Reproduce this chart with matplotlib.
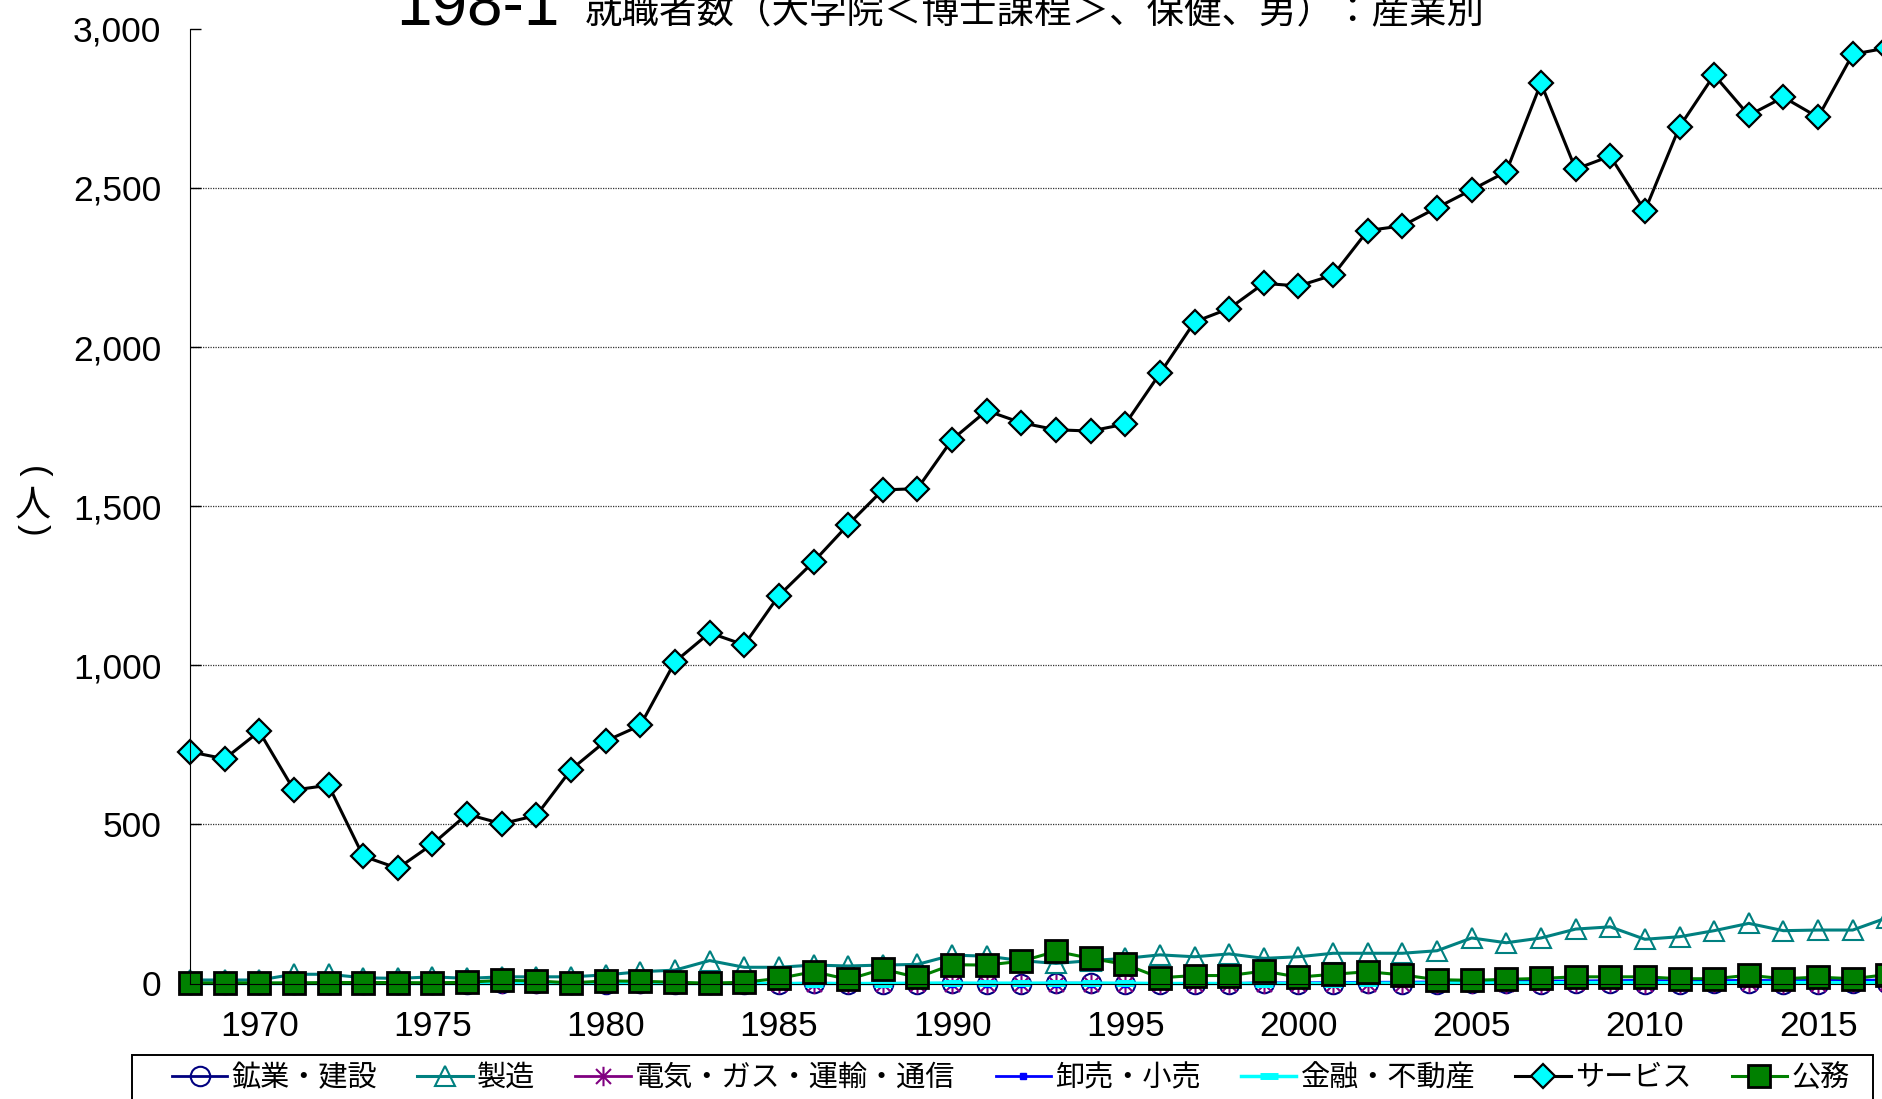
import matplotlib
matplotlib.use('Agg')
import matplotlib.pyplot as plt
from matplotlib import font_manager
from matplotlib.patches import Rectangle
from matplotlib.path import Path

# ---- data ----
years = list(range(1968, 2018))

mining = [0, 0, 0, 0, 0, 0, 0, 0, 0, 1, 1, 0, 0, 1, 0, 0, 0, 0, 1, 0,
          0, 0, 1, 0, 0, 1, 1, 0, 0, 0, 0, 1, 0, 0, 1, 0, 0, 1, 1, 0,
          1, 1, 0, 0, 1, 1, 0, 0, 1, 1]

manufacturing = [11, 11, 11, 29, 29, 18, 16, 21, 16, 21, 21, 21, 27, 37, 42, 72, 51, 51, 58, 55,
                 58, 60, 89, 86, 72, 63, 72, 79, 90, 84, 93, 79, 84, 95, 95, 95, 103, 143, 128, 143,
                 171, 178, 139, 147, 166, 189, 166, 168, 168, 207]

utilities = [0, 0, 0, 0, 0, 0, 0, 0, 0, 0, 0, 0, 0, 0, 0, 0, 0, 0, 0, 0,
             0, 0, 0, 0, 0, 0, 0, 0, 0, 0, 0, 0, 0, 0, 0, 0, 0, 0, 0, 0,
             1, 1, 0, 0, 1, 1, 0, 0, 1, 1]

wholesale = [0, 0, 0, 0, 0, 0, 0, 0, 0, 0, 0, 0, 0, 0, 0, 0, 0, 0, 0, 0,
             0, 0, 0, 0, 0, 0, 0, 0, 0, 0, 0, 2, 2, 3, 4, 4, 5, 6, 6, 8,
             8, 9, 10, 8, 9, 10, 9, 10, 10, 11]

finance = [0, 0, 0, 0, 0, 0, 0, 0, 0, 0, 0, 0, 0, 0, 0, 0, 0, 0, 0, 0,
           0, 1, 1, 1, 1, 1, 1, 1, 0, 0, 0, 0, 0, 0, 1, 1, 1, 2, 2, 2,
           3, 3, 3, 2, 2, 3, 3, 3, 2, 3]

services = [728, 706, 792, 608, 623, 400, 362, 438, 532, 502, 528, 672, 762, 811, 1011, 1102, 1064, 1219, 1325, 1442,
            1551, 1555, 1709, 1800, 1762, 1740, 1736, 1758, 1917, 2079, 2121, 2200, 2192, 2226, 2366, 2381, 2438, 2494, 2551, 2829,
            2559, 2600, 2428, 2692, 2855, 2728, 2785, 2722, 2920, 2940]

public = [2, 2, 2, 2, 3, 3, 3, 2, 4, 10, 8, 2, 8, 7, 4, 1, 4, 16, 37, 13,
          45, 19, 59, 58, 70, 101, 79, 60, 18, 25, 25, 39, 20, 29, 37, 27, 12, 10, 13, 16,
          21, 21, 21, 15, 15, 26, 15, 20, 15, 28]

labels = ['鉱業・建設', '製造', '電気・ガス・運輸・通信', '卸売・小売', '金融・不動産', 'サービス', '公務']
yticks = [0, 500, 1000, 1500, 2000, 2500, 3000]
ytick_labels = ['0', '500', '1,000', '1,500', '2,000', '2,500', '3,000']
xticks = [1970, 1975, 1980, 1985, 1990, 1995, 2000, 2005, 2010, 2015]
xtick_labels = ['1970', '1975', '1980', '1985', '1990', '1995', '2000', '2005', '2010', '2015']
title_num = '198-1'
title_jp = '就職者数（大学院＜博士課程＞、保健、男）：産業別'


def font_ok(name):
    try:
        font_manager.findfont(font_manager.FontProperties(family=name), fallback_to_default=False)
        return True
    except ValueError:
        return False


if font_ok('Liberation Sans Narrow'):
    num_font, num_size = 'Liberation Sans Narrow', 28
else:
    num_font, num_size = 'Liberation Sans', 25.5
jp_font = 'Noto Sans CJK JP'

# excel-like asterisk marker: an x with a vertical bar
asterisk = Path([(-1, -1), (1, 1), (-1, 1), (1, -1), (0, -1.3), (0, 1.3)],
                [Path.MOVETO, Path.LINETO, Path.MOVETO, Path.LINETO, Path.MOVETO, Path.LINETO])

W, H = 1883, 1099
fig = plt.figure(figsize=(W / 100, H / 100), dpi=100)
ax = fig.add_axes([190 / W, 1 - 983.5 / H, 52 * 34.64 / W, 954.7 / H])

l1, = ax.plot(years, mining, color='#000080', lw=2, marker='o', ms=14, mfc='none', mew=1.5, clip_on=False)
l2, = ax.plot(years, manufacturing, color='#008080', lw=2.2, marker='^', ms=15, mfc='none', mew=1.5, clip_on=False)
l3, = ax.plot(years, utilities, color='#800080', lw=2, marker=asterisk, ms=14, mew=1.5, clip_on=False)
l4, = ax.plot(years, wholesale, color='#0000FF', lw=2, marker='s', ms=4, mew=1, clip_on=False)
l5, = ax.plot(years, finance, color='#00FFFF', lw=2.5, marker='_', ms=13, mew=5, clip_on=False)
l6, = ax.plot(years, services, color='black', lw=2.2, marker='D', ms=12, mfc='#00FFFF', mec='black', mew=1.6, clip_on=False)
l7, = ax.plot(years, public, color='#008000', lw=2.2, marker='s', ms=16, mfc='#008000', mec='black', mew=2, clip_on=False)

ax.set_xlim(1968, 2020)
ax.set_ylim(0, 3000)
ax.set_yticks(yticks)
ax.set_yticklabels(ytick_labels)
ax.set_xticks(xticks)
ax.set_xticklabels(xtick_labels)
ax.tick_params(axis='y', direction='in', length=8, width=1, pad=20.5, labelsize=num_size)
ax.tick_params(axis='x', length=0, pad=19, labelsize=num_size)
for lbl in ax.get_xticklabels() + ax.get_yticklabels():
    lbl.set_fontfamily(num_font)

ax.grid(axis='y', ls=(0, (1, 1)), color='#333333', lw=0.9)
ax.set_axisbelow(True)
ax.yaxis.get_gridlines()[-1].set_visible(False)
ax.spines['top'].set_visible(False)
ax.spines['right'].set_visible(False)

# title (partly cut off at the top, as in the source image)
fig.text(396 / W, 1 - 26 / H, title_num, family='Liberation Sans', fontsize=46, va='baseline', ha='left')
fig.text(585 / W, 1 - 22 / H, title_jp, family=jp_font, fontsize=27, va='baseline', ha='left')

# vertical y label
fig.text(33 / W, 1 - 472 / H, '(', family='Liberation Sans', fontsize=25, rotation=-90, ha='center', va='center')
fig.text(33 / W, 1 - 505 / H, '人', family=jp_font, fontsize=26, ha='center', va='center')
fig.text(33 / W, 1 - 530 / H, ')', family='Liberation Sans', fontsize=25, rotation=-90, ha='center', va='center')

handles = [l1, l2, l3, l4, l5, l6, l7]
ax.legend(handles, labels, loc='center left', bbox_to_anchor=(172 / W, 1 - 1078 / H),
          bbox_transform=fig.transFigure, ncol=7, frameon=False,
          prop={'family': jp_font, 'size': 21}, handlelength=1.9, handletextpad=0.15,
          columnspacing=1.37, borderpad=0, borderaxespad=0)
fig.add_artist(Rectangle((132 / W, -0.02), (1873 - 132) / W, (H - 1055) / H + 0.02,
                         transform=fig.transFigure, fill=False, ec='black', lw=1.4))

fig.savefig('out.png', dpi=100)
